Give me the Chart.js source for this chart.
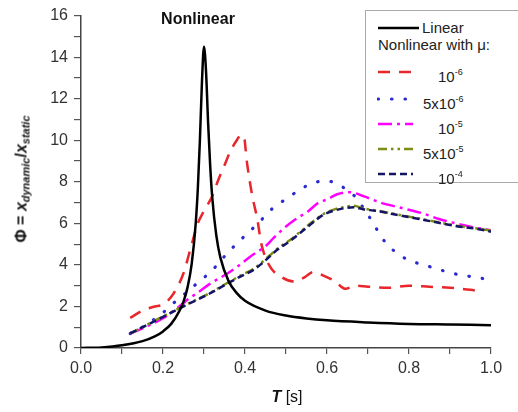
<!DOCTYPE html>
<html>
<head>
<meta charset="utf-8">
<script src="https://cdn.jsdelivr.net/npm/chart.js@4.4.1/dist/chart.umd.min.js"></script>
<style>
  body { margin: 0; background: #fff; font-family: Arial, "Liberation Sans", sans-serif; }
  #wrap { position: relative; width: 518px; height: 412px; overflow: hidden; }
  #chart { position: absolute; left: 0; top: 0; }
  .txt { position: absolute; white-space: nowrap; color: #111; }
  #title { left: 198px; top: 19px; transform: translate(-50%, -50%); font-weight: bold; font-size: 16px; }
  #ylab { left: 22px; top: 179px; transform: translate(-50%, -50%) rotate(-90deg); font-weight: bold; font-size: 16px; }
  #ylab i { font-style: italic; }
  #ylab sub { font-size: 11px; font-style: italic; vertical-align: -3px; }
  #xlab { left: 287px; top: 397px; transform: translate(-50%, -50%); font-size: 16px; }
  #legend { position: absolute; left: 365px; top: 10px; width: 160px; height: 171px; border: 1px solid #aaa; background: #fff; }
  .row { position: absolute; left: 0; width: 160px; height: 18px; font-size: 15px; color: #222; white-space: nowrap; }
  .row span { white-space: nowrap; }
  .row sup { font-size: 9px; vertical-align: 7px; }
</style>
</head>
<body>
<div id="wrap">
  <canvas id="chart" width="518" height="412"></canvas>
  <div id="title" class="txt">Nonlinear</div>
  <div id="ylab" class="txt">&Phi; = <i>x</i><sub>dynamic</sub>/<i>x</i><sub>static</sub></div>
  <div id="xlab" class="txt"><b><i>T</i></b> [s]</div>
  <div id="legend"></div>
</div>
<script>
// Linear response
const linearT = [0, 0.05, 0.1, 0.15, 0.18, 0.2, 0.22, 0.24, 0.25, 0.26, 0.27, 0.28, 0.285, 0.29, 0.295, 0.3,
  0.305, 0.31, 0.315, 0.32, 0.33, 0.34, 0.36, 0.38, 0.4, 0.45, 0.5, 0.55, 0.6, 0.7, 0.8, 0.9, 1.0];
const linearPhi = [0, 0.03, 0.13, 0.33, 0.56, 0.8, 1.16, 1.78, 2.23, 2.93, 4.05, 6.05, 7.7, 10.0, 12.8, 14.5,
  13.3, 10.85, 8.8, 7.28, 5.42, 4.35, 3.22, 2.64, 2.27, 1.8, 1.56, 1.42, 1.33, 1.23, 1.16, 1.13, 1.1];

// mu = 1e-6
const mu1T = [0.12, 0.15, 0.18, 0.2, 0.225, 0.25, 0.266, 0.285, 0.3, 0.32, 0.335, 0.35, 0.365, 0.38, 0.39, 0.397,
  0.405, 0.417, 0.43, 0.44, 0.46, 0.49, 0.52, 0.545, 0.566, 0.59, 0.62, 0.645, 0.67, 0.7, 0.75, 0.8, 0.85, 0.9, 0.95, 0.98];
const mu1Phi = [1.45, 1.8, 2.0, 2.1, 2.6, 3.6, 4.7, 6.0, 6.6, 7.3, 8.1, 8.8, 9.5, 10.0, 10.25, 10.2,
  8.9, 7.4, 6.2, 5.0, 3.95, 3.4, 3.2, 3.4, 3.65, 3.5, 3.2, 2.85, 3.0, 2.95, 2.9, 3.0, 2.95, 2.9, 2.8, 2.7];

// mu = 5e-6
const mu2T = [0.12, 0.15, 0.18, 0.2, 0.225, 0.25, 0.27, 0.298, 0.33, 0.356, 0.376, 0.405, 0.432, 0.466, 0.5, 0.534,
  0.566, 0.603, 0.63, 0.668, 0.69, 0.713, 0.734, 0.762, 0.795, 0.83, 0.864, 0.895, 0.93, 0.965, 1.0];
const mu2Phi = [0.7, 1.0, 1.4, 1.7, 2.15, 2.55, 2.9, 3.35, 3.95, 4.55, 4.95, 5.5, 6.0, 6.7, 7.17, 7.62,
  7.95, 8.03, 7.84, 7.3, 6.7, 6.0, 5.3, 4.7, 4.27, 4.03, 3.84, 3.65, 3.5, 3.4, 3.26];

// mu = 1e-5
const mu3T = [0.12, 0.15, 0.2, 0.23, 0.258, 0.287, 0.315, 0.35, 0.38, 0.42, 0.45, 0.47, 0.5, 0.52, 0.555, 0.58,
  0.6, 0.625, 0.655, 0.69, 0.73, 0.78, 0.83, 0.875, 0.925, 0.96, 1.0];
const mu3Phi = [0.7, 0.95, 1.43, 1.85, 2.3, 2.7, 3.1, 3.5, 3.9, 4.5, 4.9, 5.3, 5.85, 6.15, 6.6, 7.0,
  7.15, 7.4, 7.5, 7.3, 7.0, 6.75, 6.5, 6.2, 5.95, 5.8, 5.67];

// mu = 5e-5 and 1e-4 share the same periods
const mu45T = [0.12, 0.15, 0.18, 0.21, 0.24, 0.27, 0.307, 0.335, 0.363, 0.39, 0.42, 0.44, 0.46, 0.48, 0.51, 0.535,
  0.56, 0.59, 0.615, 0.64, 0.665, 0.688, 0.72, 0.76, 0.8, 0.84, 0.88, 0.92, 0.96, 1.0];
const mu4Phi = [0.7, 1.0, 1.32, 1.62, 1.92, 2.22, 2.57, 2.88, 3.2, 3.5, 3.8, 4.1, 4.45, 4.8, 5.2, 5.6,
  6.0, 6.43, 6.65, 6.78, 6.85, 6.72, 6.62, 6.47, 6.32, 6.17, 6.02, 5.87, 5.77, 5.65];
const mu5Phi = [0.7, 1.0, 1.3, 1.6, 1.9, 2.2, 2.55, 2.85, 3.17, 3.45, 3.75, 4.05, 4.4, 4.75, 5.15, 5.55,
  5.95, 6.4, 6.6, 6.72, 6.78, 6.68, 6.6, 6.45, 6.3, 6.15, 6.0, 5.85, 5.75, 5.6];

const xTickStep = 0.1;
const yTickStep = 1;

const pts = (xs, ys) => xs.map((x, i) => ({ x: x, y: ys[i] }));

const series = [
  { label: 'Linear', data: pts(linearT, linearPhi), color: '#000000', width: 2.5, dash: [], cap: 'butt', order: 0 },
  { label: '10^-6', data: pts(mu1T, mu1Phi), color: '#e8262b', width: 2.5, dash: [12, 9], cap: 'butt', order: 5 },
  { label: '5x10^-6', data: pts(mu2T, mu2Phi), color: '#2a2ad0', width: 3.2, dash: [0.5, 13], cap: 'round', order: 4 },
  { label: '10^-5', data: pts(mu3T, mu3Phi), color: '#ff00ff', width: 2.5, dash: [14, 5, 3, 5], cap: 'butt', order: 3 },
  { label: '5x10^-5', data: pts(mu45T, mu4Phi), color: '#7d8c12', width: 2.5, dash: [9, 4, 2.5, 4, 2.5, 4], cap: 'butt', order: 2 },
  { label: '10^-4', data: pts(mu45T, mu5Phi), color: '#141466', width: 2.5, dash: [7, 4], cap: 'butt', order: 1 }
];

const datasets = series.map(s => ({
  label: s.label,
  data: s.data,
  borderColor: s.color,
  borderWidth: s.width,
  borderDash: s.dash,
  borderCapStyle: s.cap,
  pointRadius: 0,
  fill: false,
  cubicInterpolationMode: 'monotone',
  order: s.order
}));

const tickFont = { family: 'Arial, "Liberation Sans", sans-serif', size: 16 };

new Chart(document.getElementById('chart'), {
  type: 'line',
  data: { datasets: datasets },
  options: {
    responsive: false,
    animation: false,
    layout: { padding: { top: 15, right: 27, left: 0, bottom: 0 } },
    plugins: { legend: { display: false }, tooltip: { enabled: false } },
    scales: {
      x: {
        type: 'linear', min: 0, max: 1,
        afterFit: s => { s.height = 64; },
        ticks: {
          stepSize: xTickStep, autoSkip: false, maxRotation: 0, padding: 5,
          color: '#333', font: tickFont,
          callback: v => (Math.round(v * 10) % 2 === 0 ? v.toFixed(1) : '')
        },
        grid: { drawOnChartArea: false, tickLength: 6, color: '#555', lineWidth: 1.2 },
        border: { color: '#444', width: 1.5 }
      },
      y: {
        min: 0, max: 16,
        afterFit: s => { s.width = 81; },
        ticks: {
          stepSize: yTickStep, autoSkip: false, padding: 6,
          color: '#333', font: tickFont,
          callback: v => (Math.round(v) % 2 === 0 ? String(v) : '')
        },
        grid: { drawOnChartArea: false, tickLength: 7, color: '#555', lineWidth: 1.2 },
        border: { color: '#444', width: 1.5 }
      }
    }
  }
});

// legend (HTML so that superscripts stay real text)
const legendRows = [
  { y: 17, sample: 0, text: 'Linear', tx: 56 },
  { y: 34, sample: -1, text: 'Nonlinear with \u03bc:', tx: 12 },
  { y: 61, sample: 1, text: '10<sup>-6</sup>', tx: 72 },
  { y: 88, sample: 2, text: '5x10<sup>-6</sup>', tx: 57 },
  { y: 113, sample: 3, text: '10<sup>-5</sup>', tx: 72 },
  { y: 138, sample: 4, text: '5x10<sup>-5</sup>', tx: 57 },
  { y: 163, sample: 5, text: '10<sup>-4</sup>', tx: 72 }
];
const legend = document.getElementById('legend');
legendRows.forEach(r => {
  const row = document.createElement('div');
  row.className = 'row';
  row.style.top = (r.y - 9) + 'px';
  if (r.sample >= 0) {
    const s = series[r.sample];
    const len = r.sample === 0 ? 43 : 37;
    const dash = s.dash.length ? s.dash.join(',') : 'none';
    row.innerHTML = `<svg width="${len}" height="8" style="position:absolute;left:11px;top:5px">
      <line x1="1" y1="4" x2="${len - 1}" y2="4" stroke="${s.color}" stroke-width="${s.width}"
        stroke-dasharray="${dash}" stroke-linecap="${s.cap}"/></svg>`;
  }
  const span = document.createElement('span');
  span.innerHTML = r.text;
  span.style.position = 'absolute';
  span.style.left = r.tx + 'px';
  span.style.top = '0px';
  span.style.lineHeight = '18px';
  row.appendChild(span);
  legend.appendChild(row);
});
</script>
</body>
</html>
